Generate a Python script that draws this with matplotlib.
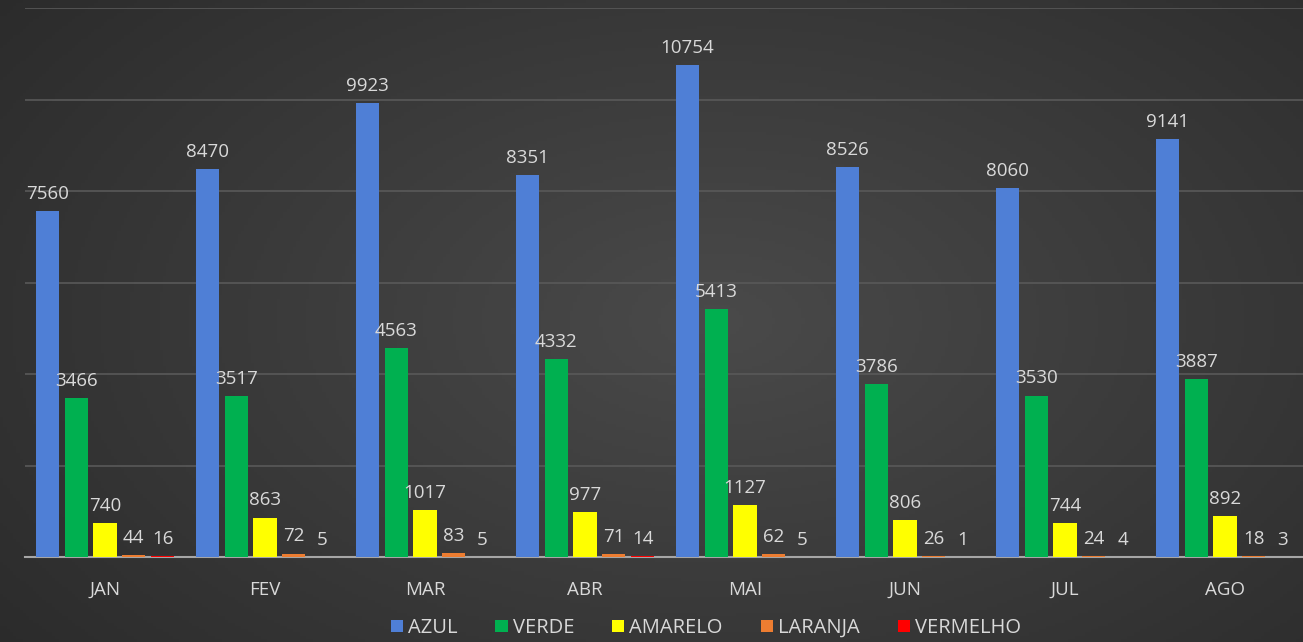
import numpy as np
import matplotlib
matplotlib.use("Agg")
import matplotlib.pyplot as plt

plt.rcParams['font.family'] = ['Open Sans', 'DejaVu Sans']

months = ["JAN", "FEV", "MAR", "ABR", "MAI", "JUN", "JUL", "AGO"]
azul = [7560, 8470, 9923, 8351, 10754, 8526, 8060, 9141]
verde = [3466, 3517, 4563, 4332, 5413, 3786, 3530, 3887]
amarelo = [740, 863, 1017, 977, 1127, 806, 744, 892]
laranja = [44, 72, 83, 71, 62, 26, 24, 18]
vermelho = [16, 5, 5, 14, 5, 1, 4, 3]

series = [("AZUL", azul, "#4f7fd6"), ("VERDE", verde, "#00b050"),
          ("AMARELO", amarelo, "#ffff00"), ("LARANJA", laranja, "#ed7d31"),
          ("VERMELHO", vermelho, "#ff0000")]

fig = plt.figure(figsize=(13.03, 6.42), dpi=100)

# radial-ish dark background
bg = fig.add_axes([0, 0, 1, 1], zorder=-10)
yy, xx = np.mgrid[0:1:200j, 0:1:400j]
d = np.sqrt(((xx - 0.55) / 0.75) ** 2 + ((yy - 0.5) / 0.9) ** 2)
g = np.clip(0.29 - 0.13 * d, 0.15, 0.3)
bg.imshow(np.dstack([g, g, g]), aspect="auto", extent=[0, 1, 0, 1])
bg.axis("off")

ax = fig.add_axes([25 / 1303, 85 / 642, 1278 / 1303, 549 / 642])
ax.patch.set_alpha(0)
x = np.arange(len(months))
w, step = 0.145, 0.18
for i, (name, vals, col) in enumerate(series):
    pos = x + (i - 2) * step
    ax.bar(pos, vals, w, color=col, label=name, zorder=3)
    for px, v in zip(pos, vals):
        ax.text(px, v + 180, str(v), ha="center", va="bottom", color="#d9d9d9",
                fontsize=13.5, zorder=4)

ax.set_xlim(-0.5, 7.4875)
ax.set_ylim(0, 12000)
ax.set_yticks(np.arange(0, 12001, 2000))
ax.yaxis.grid(True, color="#595959", lw=1.2, zorder=0)
ax.tick_params(axis="y", left=False, labelleft=False)
ax.tick_params(axis="x", length=0, colors="#d9d9d9", labelsize=13.5, pad=17)
ax.set_xticks(x)
ax.set_xticklabels(months)
for s in ["top", "right", "left"]:
    ax.spines[s].set_visible(False)
ax.spines["bottom"].set_color("#a6a6a6")
ax.spines["bottom"].set_linewidth(1.5)

leg = fig.legend(loc="center", bbox_to_anchor=(706 / 1303, 14 / 642), ncol=5,
                 frameon=False, fontsize=14.5, handlelength=0.6, handleheight=0.6,
                 handletextpad=0.25, columnspacing=1.9)
for t in leg.get_texts():
    t.set_color("#d9d9d9")

fig.savefig("out.png", dpi=100)
